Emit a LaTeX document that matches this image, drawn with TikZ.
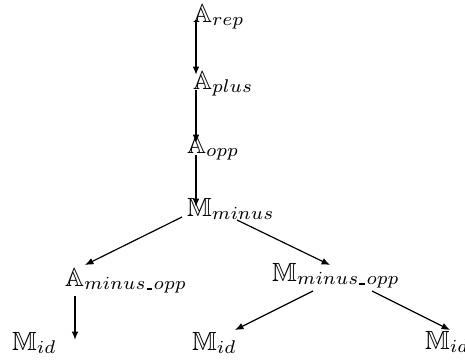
\documentclass[tikz,border=0pt]{standalone}
\usepackage{amssymb}
\usetikzlibrary{arrows.meta}
\newcommand\usc{\mbox{\kern0.4pt\rule{2.2pt}{0.6pt}\kern0.5pt}}
\begin{document}
\begin{tikzpicture}[x=0.38pt,y=-0.38pt,
  lbl/.style={inner sep=0pt,outer sep=0pt,anchor=base west},
  vedge/.style={-{Latex[length=3.2pt,width=2.6pt]},line width=1pt},
  dedge/.style={-{Latex[length=3.2pt,width=2.6pt]},line width=0.45pt}]
\useasboundingbox (0,0) rectangle (465,361);
\node[lbl] (arep) at (193,22) {$\mathbb{A}_{rep}$};
\node[lbl] (aplus) at (193,89) {$\mathbb{A}_{plus}$};
\node[lbl] (aopp) at (187,153) {$\mathbb{A}_{opp}$};
\node[lbl] (mminus) at (187,216) {$\mathbb{M}_{minus}$};
\node[lbl] (aminusopp) at (65,286) {$\mathbb{A}_{minus\usc opp}$};
\node[lbl] (mminusopp) at (272,281) {$\mathbb{M}_{minus\usc opp}$};
\node[lbl] (midl) at (12,350) {$\mathbb{M}_{id}$};
\node[lbl] (midm) at (192,350) {$\mathbb{M}_{id}$};
\node[lbl] (midr) at (425,349) {$\mathbb{M}_{id}$};
\draw[vedge] ([shift={(3,-2)}]arep.base west) -- ([shift={(3,-14)}]aplus.base west);
\draw[vedge] ([shift={(3,1)}]aplus.base west) -- ([shift={(9,-10)}]aopp.base west);
\draw[vedge] ([shift={(9,2)}]aopp.base west) -- ([shift={(9,-9)}]mminus.base west);
\draw[dedge] ([shift={(-5,1)}]mminus.base west) -- ([shift={(20,-21)}]aminusopp.base west);
\draw[dedge] ([shift={(50,4)}]mminus.base west) -- ([shift={(58,-16)}]mminusopp.base west);
\draw[vedge] ([shift={(10,10)}]aminusopp.base west) -- ([shift={(63,-10)}]midl.base west);
\draw[dedge] ([shift={(41,10)}]mminusopp.base west) -- ([shift={(43,-20)}]midm.base west);
\draw[dedge] ([shift={(100,10)}]mminusopp.base west) -- ([shift={(25,-19)}]midr.base west);
\end{tikzpicture}
\end{document}
